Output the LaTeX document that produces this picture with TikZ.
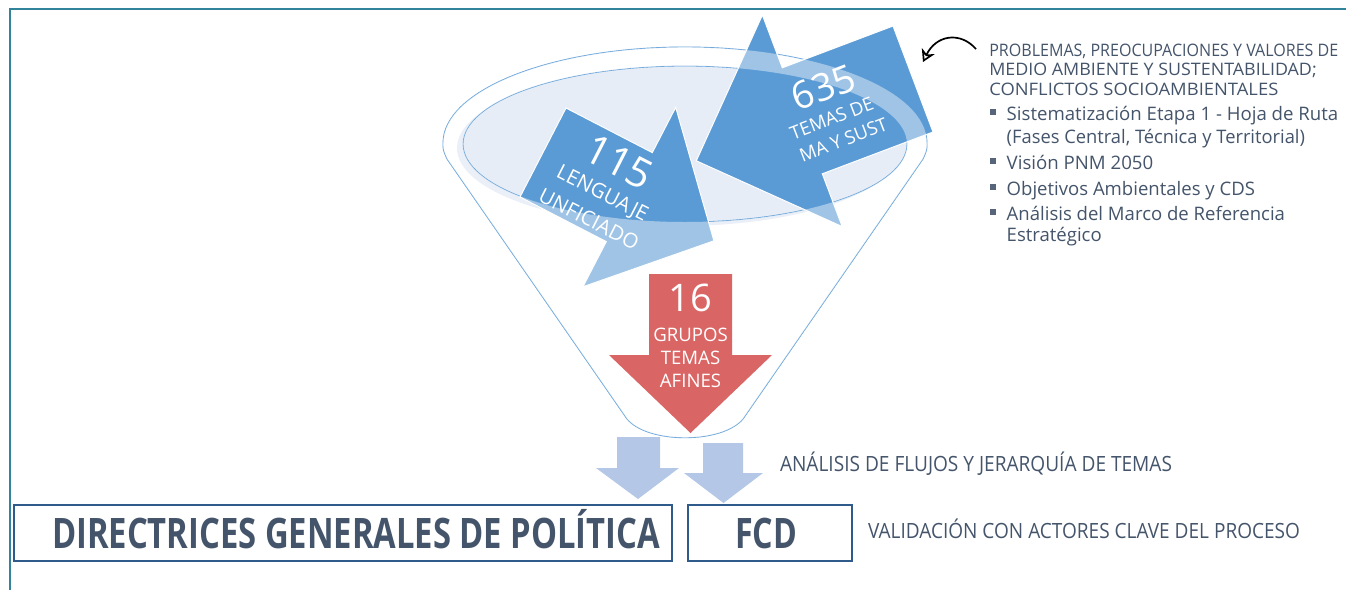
\documentclass[tikz,border=0pt]{standalone}
\usepackage{fontspec}
\setmainfont{Open Sans}
\usetikzlibrary{arrows.meta}
\definecolor{frameteal}{HTML}{31849B}
\definecolor{abl}{HTML}{5B9BD5}
\definecolor{ellfill}{HTML}{E6EDF7}
\definecolor{glowc}{HTML}{DCE5F3}
\definecolor{redarr}{HTML}{DA6565}
\definecolor{lightarr}{HTML}{B4C7E7}
\definecolor{txt}{HTML}{44546A}
\definecolor{bulc}{HTML}{56657A}
\definecolor{boxc}{HTML}{2F5B8C}
\newcommand\fitw[2]{\resizebox{#1pt}{\height}{#2}}
\begin{document}
\begin{tikzpicture}[x=1pt,y=-1pt,
  every node/.style={inner sep=0pt, outer sep=0pt},
  arrtxt/.style={text=white, font=\fontsize{20.5}{20.5}\selectfont},
  bignum/.style={text=white, font=\fontsize{41}{41}\selectfont},
  rtxt/.style={text=txt, anchor=base west},
  hdtxt/.style={rtxt, font=\fontsize{17.2}{17.2}\selectfont},
  bltxt/.style={rtxt, font=\fontsize{18.6}{18.6}\selectfont},
  bullet/.style={fill=bulc, minimum size=6pt, inner sep=0pt},
  bottxt/.style={rtxt, font=\fontsize{21}{21}\selectfont},
  bigbox/.style={draw=boxc, line width=2pt, fill=white},
  bigtxt/.style={rtxt, text=txt, font=\fontsize{42}{42}\selectfont\bfseries},
  funnelline/.style={draw=abl, line width=0.9pt},
  blockarrow/.style={fill=abl, draw=white, line width=1pt},
  lightarrow/.style={fill=lightarr}
]
\useasboundingbox (0,0) rectangle (1346,590);
% frame
\draw[frameteal, line width=2.5pt] (10,590) -- (10,9) -- (1346,9);

% funnel outline
\draw[funnelline] (443,143) arc[start angle=180, end angle=360, x radius=242, y radius=96]
  .. controls (927,150) .. (923,159) -- (743,419)
  .. controls (722,444) and (648,444) .. (627,419) -- (447,159)
  .. controls (443,150) .. cycle;

% glow and inner ellipse
\fill[glowc] (679,148) ellipse [x radius=222, y radius=78];
\filldraw[fill=ellfill, draw=abl, line width=0.8pt] (685,144) ellipse [x radius=222, y radius=78];

% 635 arrow
\coordinate (p1) at (893,26);
\coordinate (p2) at (782.3,67.8);
\coordinate (p3) at (762.4,15.0);
\coordinate (p4) at (696.3,160.8);
\coordinate (p5) at (842.2,226.6);
\coordinate (p6) at (822.3,173.8);
\coordinate (p7) at (933,132);
\path[blockarrow] (p1) -- (p2) -- (p3) -- (p4) -- (p5) -- (p6) -- (p7) -- cycle;

% 115 arrow
\coordinate (a1) at (566,108);
\coordinate (a2) at (652.3,152.6);
\coordinate (a3) at (675.7,107.4);
\coordinate (a4) at (713.9,240.8);
\coordinate (a5) at (582.9,286.8);
\coordinate (a6) at (606.3,241.6);
\coordinate (a7) at (520,197);
\path[blockarrow] (a1) -- (a2) -- (a3) -- (a4) -- (a5) -- (a6) -- (a7) -- cycle;

% arrow texts
\node[bignum, rotate=-27] (n115) at (619,162) {115};
\node[arrtxt, rotate=-27] (t115a) at (602,194.5) {LENGUAJE};
\node[arrtxt, rotate=-27] (t115b) at (589,219) {UNFICIADO};
\node[bignum, font=\fontsize{38}{38}\selectfont, rotate=21] (n635) at (823.3,87.3) {635};
\node[arrtxt, font=\fontsize{18.5}{18.5}\selectfont, rotate=21] (t635a) at (831.7,118.3) {TEMAS DE};
\node[arrtxt, font=\fontsize{18.5}{18.5}\selectfont, rotate=21] (t635b) at (843.3,140) {MA Y SUST};

% funnel front overlay
\fill[white, opacity=0.42, even odd rule] (443,143) arc[start angle=180, end angle=360, x radius=242, y radius=96]
  .. controls (927,150) .. (923,159) -- (743,419)
  .. controls (722,444) and (648,444) .. (627,419) -- (447,159)
  .. controls (443,150) .. cycle
  (685,144) ellipse [x radius=222, y radius=78];

% red arrow
\coordinate (r1) at (649,274);
\coordinate (r2) at (732,274);
\coordinate (r3) at (732,355);
\coordinate (r4) at (772,355);
\coordinate (r5) at (690.5,433);
\coordinate (r6) at (609,355);
\coordinate (r7) at (649,355);
\fill[redarr] (r1) -- (r2) -- (r3) -- (r4) -- (r5) -- (r6) -- (r7) -- cycle;
\node[bignum, font=\fontsize{38}{38}\selectfont] (n16) at (690.5,298) {16};
\node[arrtxt, font=\fontsize{18.6}{18.6}\selectfont] (g1) at (690.5,335) {GRUPOS};
\node[arrtxt, font=\fontsize{18.6}{18.6}\selectfont] (g2) at (690.5,357.7) {TEMAS};
\node[arrtxt, font=\fontsize{18.6}{18.6}\selectfont] (g3) at (690.5,380.7) {AFINES};

% light arrows
\fill[lightarrow] (617,437) -- (660,437) -- (660,468) -- (679,468) -- (638,499) -- (596,468) -- (617,468) -- cycle;
\fill[lightarrow] (703,443) -- (743,443) -- (743,473) -- (763,473) -- (723.5,503) -- (684,473) -- (703,473) -- cycle;

% bottom boxes
\path[bigbox] (14,505) rectangle (672,561);
\path[bigbox] (688,505) rectangle (852,561);
\node[bigtxt] (dgp) at (52,548) {\fitw{608}{DIRECTRICES GENERALES DE POLÍTICA}};
\node[bigtxt] (fcd) at (735,548) {\fitw{62}{FCD}};

% bottom texts
\node[bottxt] (analisis) at (780,471) {\fitw{392}{ANÁLISIS DE FLUJOS Y JERARQUÍA DE TEMAS}};
\node[bottxt] (valid) at (868,538) {\fitw{432}{VALIDACIÓN CON ACTORES CLAVE DEL PROCESO}};

% right text
\node[hdtxt] (h1) at (989.3,56.7) {\fitw{349}{PROBLEMAS, PREOCUPACIONES Y VALORES DE}};
\node[hdtxt] (h2) at (989.3,75.7) {\fitw{327.4}{MEDIO AMBIENTE Y SUSTENTABILIDAD;}};
\node[hdtxt] (h3) at (989.3,95) {\fitw{289}{CONFLICTOS SOCIOAMBIENTALES}};

\node[bullet] (b1) at (993,112) {};
\node[bullet] (b3) at (993,161) {};
\node[bullet] (b4) at (993,187) {};
\node[bullet] (b5) at (993,212) {};
\node[bltxt] (l1) at (1006.7,120) {\fitw{331.6}{Sistematización Etapa 1 - Hoja de Ruta}};
\node[bltxt] (l2) at (1006.7,143.3) {\fitw{298.3}{(Fases Central, Técnica y Territorial)}};
\node[bltxt] (l3) at (1006.7,169) {\fitw{146.6}{Visión PNM 2050}};
\node[bltxt] (l4) at (1006.7,195) {\fitw{248.3}{Objetivos Ambientales y CDS}};
\node[bltxt] (l5) at (1006.7,220) {\fitw{278.3}{Análisis del Marco de Referencia}};
\node[bltxt] (l6) at (1006.7,241.7) {\fitw{95}{Estratégico}};

% curved arrow
\coordinate (ca1) at (976,49);
\coordinate (ca2) at (923,62);
\draw[line width=1.7pt, -{Stealth[open, length=12pt, width=14pt, inset=3.5pt]}] (ca1) .. controls (960,31) and (936,35) .. (ca2);
\end{tikzpicture}
\end{document}
